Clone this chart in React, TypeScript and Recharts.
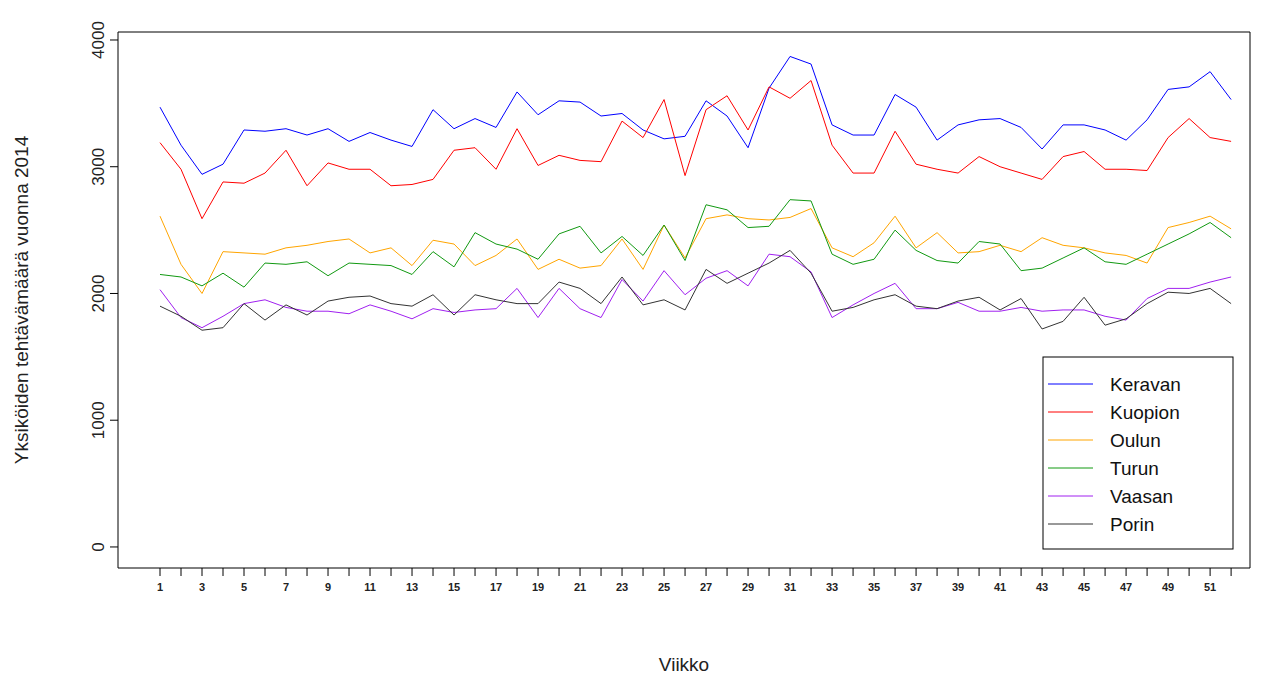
import { LineChart, Line, XAxis, YAxis, ReferenceArea } from "recharts";

const weeks = [1, 2, 3, 4, 5, 6, 7, 8, 9, 10, 11, 12, 13, 14, 15, 16, 17, 18, 19, 20, 21, 22, 23, 24, 25, 26,
  27, 28, 29, 30, 31, 32, 33, 34, 35, 36, 37, 38, 39, 40, 41, 42, 43, 44, 45, 46, 47, 48, 49, 50, 51, 52];

const keravan = [3470, 3170, 2940, 3020, 3290, 3280, 3300, 3250, 3300, 3200, 3270, 3210, 3160, 3450, 3300, 3380, 3310, 3590, 3410, 3520, 3510, 3400, 3420, 3290, 3220, 3240,
  3520, 3400, 3150, 3620, 3870, 3810, 3330, 3250, 3250, 3570, 3470, 3210, 3330, 3370, 3380, 3310, 3140, 3330, 3330, 3290, 3210, 3370, 3610, 3630, 3750, 3530];
const kuopion = [3190, 2980, 2590, 2880, 2870, 2950, 3130, 2850, 3030, 2980, 2980, 2850, 2860, 2900, 3130, 3150, 2980, 3300, 3010, 3090, 3050, 3040, 3360, 3230, 3530, 2930,
  3450, 3560, 3290, 3630, 3540, 3680, 3170, 2950, 2950, 3280, 3020, 2980, 2950, 3080, 3000, 2950, 2900, 3080, 3120, 2980, 2980, 2970, 3230, 3380, 3230, 3200];
const oulun = [2610, 2230, 2000, 2330, 2320, 2310, 2360, 2380, 2410, 2430, 2320, 2360, 2220, 2420, 2390, 2220, 2300, 2430, 2190, 2270, 2200, 2220, 2430, 2190, 2540, 2280,
  2590, 2620, 2590, 2580, 2600, 2670, 2360, 2290, 2400, 2610, 2360, 2480, 2320, 2330, 2380, 2330, 2440, 2380, 2360, 2320, 2300, 2240, 2520, 2560, 2610, 2510];
const turun = [2150, 2130, 2060, 2160, 2050, 2240, 2230, 2250, 2140, 2240, 2230, 2220, 2150, 2330, 2210, 2480, 2390, 2350, 2270, 2470, 2530, 2320, 2450, 2300, 2540, 2260,
  2700, 2660, 2520, 2530, 2740, 2730, 2310, 2230, 2270, 2500, 2340, 2260, 2240, 2410, 2390, 2180, 2200, 2280, 2360, 2250, 2230, 2310, 2390, 2470, 2560, 2440];
const vaasan = [2030, 1810, 1730, 1820, 1920, 1950, 1890, 1860, 1860, 1840, 1910, 1860, 1800, 1880, 1850, 1870, 1880, 2040, 1810, 2040, 1880, 1810, 2110, 1940, 2180, 1990,
  2120, 2180, 2060, 2310, 2290, 2170, 1810, 1910, 2000, 2080, 1880, 1880, 1930, 1860, 1860, 1890, 1860, 1870, 1870, 1820, 1790, 1960, 2040, 2040, 2090, 2130];
const porin = [1900, 1820, 1710, 1730, 1920, 1790, 1910, 1830, 1940, 1970, 1980, 1920, 1900, 1990, 1830, 1990, 1950, 1920, 1920, 2090, 2040, 1920, 2130, 1910, 1950, 1870,
  2190, 2080, 2160, 2240, 2340, 2160, 1860, 1890, 1950, 1990, 1900, 1880, 1940, 1970, 1870, 1960, 1720, 1780, 1970, 1750, 1800, 1920, 2010, 2000, 2040, 1920];

const yTicks = [0, 1000, 2000, 3000, 4000];

const series = [
  { key: "Keravan", values: keravan, color: "#0000FF" },
  { key: "Kuopion", values: kuopion, color: "#FF0000" },
  { key: "Oulun", values: oulun, color: "#FFA500" },
  { key: "Turun", values: turun, color: "#119911" },
  { key: "Vaasan", values: vaasan, color: "#A020F0" },
  { key: "Porin", values: porin, color: "#333333" },
];

const data = weeks.map((w, i) => {
  const row: Record<string, number> = { week: w };
  series.forEach((s) => (row[s.key] = s.values[i]));
  return row;
});

const font = "'Liberation Sans', Arial, sans-serif";

function XTick(props: any) {
  const { x, y, payload } = props;
  const v = payload.value as number;
  return (
    <g>
      <line x1={x} x2={x} y1={y} y2={y + 8} stroke="#000" />
      {v % 2 === 1 && (
        <text x={x} y={y + 23} textAnchor="middle" fontSize={11} fontWeight="bold" fill="#222" fontFamily={font}>
          {v}
        </text>
      )}
    </g>
  );
}

function YTick(props: any) {
  const { x, y, payload } = props;
  return (
    <g>
      <line x1={x - 8} x2={x} y1={y} y2={y} stroke="#000" />
      <text x={x - 14} y={y} transform={`rotate(-90 ${x - 14} ${y})`} textAnchor="middle" fontSize={17} fill="#222" fontFamily={font}>
        {payload.value}
      </text>
    </g>
  );
}

export default function App() {
  return (
    <div style={{ position: "absolute", left: 0, top: 0, background: "#fff" }}>
      <LineChart width={1263} height={675} data={data} margin={{ top: 32, right: 13, left: 0, bottom: 0 }}>
        <XAxis
          dataKey="week"
          type="number"
          domain={[-1, 52.9]}
          ticks={weeks}
          interval={0}
          tick={<XTick />}
          tickSize={0}
          tickMargin={0}
          axisLine={false}
          height={107}
          allowDataOverflow
        />
        <YAxis
          type="number"
          domain={[-166, 4063]}
          ticks={yTicks}
          tick={<YTick />}
          tickSize={0}
          tickMargin={0}
          axisLine={false}
          width={118}
          allowDataOverflow
        />
        <ReferenceArea x1={-1} x2={52.9} y1={-166} y2={4063} fill="none" stroke="#000" strokeWidth={1} ifOverflow="visible" />
        {series.map((s) => (
          <Line key={s.key} dataKey={s.key} stroke={s.color} strokeWidth={1} dot={false} isAnimationActive={false} type="linear" />
        ))}
        <g>
          <rect x={1043} y={357} width={190} height={192} fill="#fff" stroke="#000" />
          {series.map((s, i) => (
            <g key={s.key}>
              <line x1={1048} x2={1093} y1={384 + i * 28} y2={384 + i * 28} stroke={s.color} />
              <text x={1110} y={384 + i * 28 + 7} fontSize={19} fill="#111" fontFamily={font}>{s.key}</text>
            </g>
          ))}
        </g>
        <text x={684} y={671} textAnchor="middle" fontSize={19} fill="#222" fontFamily={font}>Viikko</text>
        <text x={28} y={300} transform="rotate(-90 28 300)" textAnchor="middle" fontSize={19} fill="#222" fontFamily={font}>
          Yksiköiden tehtävämäärä vuonna 2014
        </text>
      </LineChart>
    </div>
  );
}
